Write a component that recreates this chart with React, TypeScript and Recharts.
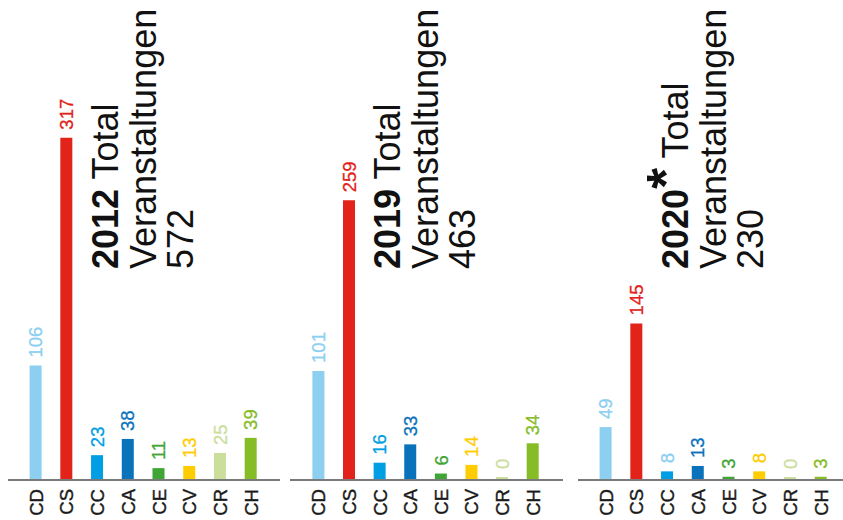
import React from "react";
import { BarChart, Bar, XAxis, YAxis, Cell, LabelList } from "recharts";

const FONT = "'Liberation Sans', Arial, Helvetica, sans-serif";

// categories + colours
const categories = ["CD", "CS", "CC", "CA", "CE", "CV", "CR", "CH"];
const barColors = ["#8ccff1", "#e2231a", "#009fe3", "#0a72bb", "#3fa535", "#ffcc00", "#cbde9c", "#86bc25"];

// values per year
const values2012 = [106, 317, 23, 38, 11, 13, 25, 39];
const values2019 = [101, 259, 16, 33, 6, 14, 0, 34];
const values2020 = [49, 145, 8, 13, 3, 8, 0, 3];

// the 2020 "8" over CC is printed in the light blue
const labelColors2020 = ["#8ccff1", "#e2231a", "#8ccff1", "#0a72bb", "#3fa535", "#ffcc00", "#cbde9c", "#86bc25"];

const years = ["2012", "2019", "2020"];
const yearMarks = ["", "", "*"];
const totals = [572, 463, 230];

const panels = [
  { left: 8, width: 272, values: values2012, labelColors: barColors, padL: 12.6, padR: 13.6 },
  { left: 290, width: 273, values: values2019, labelColors: barColors, padL: 13.4, padR: 14.7 },
  { left: 578, width: 265, values: values2020, labelColors: labelColors2020, padL: 12.6, padR: 6.6 },
];

const CategoryTick = ({ x, y, payload }: any) => (
  <text
    x={x}
    y={y}
    transform={`rotate(-90, ${x}, ${y})`}
    textAnchor="end"
    dy="0.36em"
    fontSize={18.5}
    fontFamily={FONT}
    fill="#1a1a1a"
    stroke="#1a1a1a"
    strokeWidth={0.4}
  >
    {payload.value}
  </text>
);

const makeValueLabel = (labelColors: string[]) => (props: any) => {
  const vb = props.viewBox ?? props;
  const x = vb.x ?? props.x;
  const y = vb.y ?? props.y;
  const width = vb.width ?? props.width;
  const cx = x + width / 2;
  const ty = y - 8;
  const c = labelColors[props.index];
  return (
    <text
      x={cx}
      y={ty}
      transform={`rotate(-90, ${cx}, ${ty})`}
      textAnchor="start"
      dy="0.36em"
      fontSize={18.5}
      fontFamily={FONT}
      fill={c}
      stroke={c}
      strokeWidth={0.3}
    >
      {props.value}
    </text>
  );
};

function Panel({ left, width, values, labelColors, padL, padR }: any) {
  const data = categories.map((name, i) => ({ name, value: values[i] }));
  return (
    <div style={{ position: "absolute", left, top: 0 }}>
      <BarChart
        width={width}
        height={520}
        data={data}
        margin={{ top: 48, right: 0, bottom: 0, left: 0 }}
        barCategoryGap={0}
      >
        <XAxis
          dataKey="name"
          height={40}
          axisLine={{ stroke: "#7a7a7a", strokeWidth: 2 }}
          tickLine={false}
          tickSize={0}
          tickMargin={9}
          interval={0}
          tick={<CategoryTick />}
          padding={{ left: padL, right: padR }}
        />
        <YAxis hide domain={[0, 400]} />
        <Bar dataKey="value" barSize={12} minPointSize={3} isAnimationActive={false}>
          {data.map((d, i) => (
            <Cell key={d.name} fill={barColors[i]} />
          ))}
          <LabelList dataKey="value" content={makeValueLabel(labelColors)} />
        </Bar>
      </BarChart>
    </div>
  );
}

export default function App() {
  return (
    <div style={{ position: "absolute", left: 0, top: 0, width: 843, height: 520, background: "#fff" }}>
      {panels.map((p, i) => (
        <Panel key={years[i]} {...p} />
      ))}
      <svg
        width={843}
        height={520}
        style={{ position: "absolute", left: 0, top: 0, pointerEvents: "none" }}
        fontFamily={FONT}
        fill="#111"
        fontSize={36}
      >
        {panels.map((p, i) => {
          const bx = p.left + 110;
          const ty = 269;
          const lines = [bx, bx + 37.5, bx + 75];
          return (
            <g key={years[i]}>
              <text x={lines[0]} y={ty} transform={`rotate(-90, ${lines[0]}, ${ty})`}>
                <tspan fontWeight="bold">{years[i]}</tspan>
                {yearMarks[i] ? (
                  <tspan fontWeight="bold" fontSize={54} dy={-4}>
                    {yearMarks[i]}
                  </tspan>
                ) : null}
                <tspan dy={yearMarks[i] ? 4 : 0}> Total</tspan>
              </text>
              <text x={lines[1]} y={ty} transform={`rotate(-90, ${lines[1]}, ${ty})`}>
                Veranstaltungen
              </text>
              <text x={lines[2]} y={ty} transform={`rotate(-90, ${lines[2]}, ${ty})`}>
                {totals[i]}
              </text>
            </g>
          );
        })}
      </svg>
    </div>
  );
}
